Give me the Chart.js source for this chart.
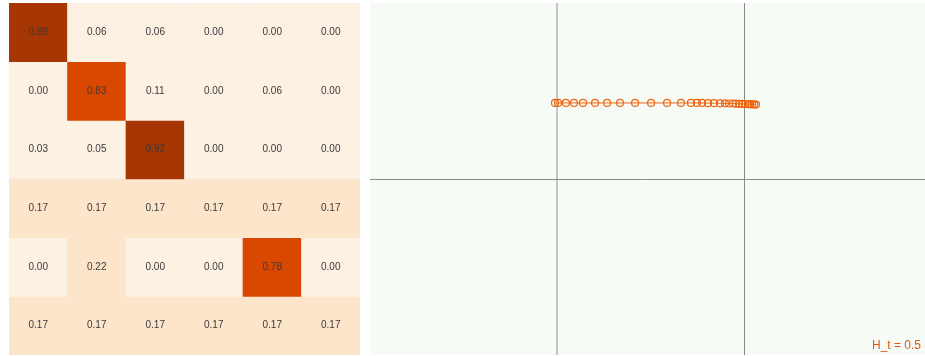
<!DOCTYPE html>
<html>
<head>
<meta charset="utf-8">
<script src="https://cdn.jsdelivr.net/npm/chart.js@4"></script>
<style>
  body { margin: 0; background: #fff; width: 925px; height: 356px; overflow: hidden; position: relative; }
  #heat-wrap { position: absolute; left: 9px; top: 3px; width: 351px; height: 352px; }
  #traj-wrap { position: absolute; left: 370px; top: 3px; width: 555px; height: 352px; }
</style>
</head>
<body>
<div id="heat-wrap"><canvas id="heat"></canvas></div>
<div id="traj-wrap"><canvas id="traj"></canvas></div>
<script>
// transition matrix, one row per state
const columns = ['s0', 's1', 's2', 's3', 's4', 's5'];
const row0 = [0.89, 0.06, 0.06, 0.00, 0.00, 0.00];
const row1 = [0.00, 0.83, 0.11, 0.00, 0.06, 0.00];
const row2 = [0.03, 0.05, 0.92, 0.00, 0.00, 0.00];
const row3 = [0.17, 0.17, 0.17, 0.17, 0.17, 0.17];
const row4 = [0.00, 0.22, 0.00, 0.00, 0.78, 0.00];
const row5 = [0.17, 0.17, 0.17, 0.17, 0.17, 0.17];
const rows = [row0, row1, row2, row3, row4, row5];

// trajectory points (right panel)
const trajX = [-0.008, 0.008, 0.05, 0.093, 0.141, 0.205, 0.269, 0.338, 0.418, 0.503,
               0.588, 0.662, 0.715, 0.747, 0.774, 0.806, 0.838, 0.870, 0.896, 0.918,
               0.939, 0.955, 0.971, 0.987, 1.003, 1.019, 1.029, 1.040, 1.051, 1.061];
const trajY = [0.432, 0.432, 0.432, 0.432, 0.432, 0.432, 0.432, 0.432, 0.432, 0.432,
               0.432, 0.432, 0.432, 0.432, 0.432, 0.431, 0.431, 0.430, 0.430, 0.429,
               0.429, 0.428, 0.427, 0.427, 0.426, 0.425, 0.425, 0.424, 0.424, 0.423];
const htLabel = 'H_t = 0.5';

// Oranges, quantised in 8 steps
const oranges = ['#fdf1e4', '#fde5cc', '#fdd0a2', '#fdae6b', '#fd8d3c', '#f16913', '#d94801', '#a63603', '#7f2704'];
function cellColor(v) {
    return oranges[Math.min(8, Math.floor(v * 8))];
}

// write the value in the middle of each cell
const cellText = {
    id: 'cellText',
    afterDatasetsDraw(chart) {
        const ctx = chart.ctx;
        ctx.save();
        ctx.font = '10px "Liberation Sans", Arial, sans-serif';
        ctx.fillStyle = '#3a3a3a';
        ctx.textAlign = 'center';
        ctx.textBaseline = 'middle';
        chart.data.datasets.forEach(function(ds, i) {
            chart.getDatasetMeta(i).data.forEach(function(bar, j) {
                const p = bar.getCenterPoint();
                ctx.fillText(rows[i][j].toFixed(2), p.x, p.y);
            });
        });
        ctx.restore();
    }
};

new Chart(document.getElementById('heat'), {
    type: 'bar',
    data: {
        labels: columns,
        datasets: rows.map(function(r, i) {
            return {
                data: r.map(function() { return [i, i + 1]; }),
                backgroundColor: r.map(cellColor),
                borderWidth: 0,
                barPercentage: 1,
                categoryPercentage: 1
            };
        })
    },
    options: {
        responsive: true,
        maintainAspectRatio: false,
        animation: false,
        layout: { padding: 0, autoPadding: false },
        plugins: { legend: { display: false }, tooltip: { enabled: false } },
        scales: {
            x: { stacked: true, display: false },
            y: { min: 0, max: 6, reverse: true, display: false }
        }
    },
    plugins: [cellText]
});

// pale green panel + label in the corner
const panel = {
    id: 'panel',
    beforeDraw(chart) {
        const a = chart.chartArea, ctx = chart.ctx;
        ctx.save();
        ctx.fillStyle = '#f7fbf6';
        ctx.fillRect(a.left, a.top, a.right - a.left, a.bottom - a.top);
        ctx.restore();
    },
    afterDraw(chart) {
        const a = chart.chartArea, ctx = chart.ctx;
        ctx.save();
        ctx.font = '12px "Liberation Sans", Arial, sans-serif';
        ctx.fillStyle = '#e6550d';
        ctx.textAlign = 'right';
        ctx.textBaseline = 'alphabetic';
        ctx.fillText(htLabel, a.right - 4, a.bottom - 6);
        ctx.restore();
    }
};

new Chart(document.getElementById('traj'), {
    type: 'scatter',
    data: {
        datasets: [{
            data: trajX.map(function(x, i) { return { x: x, y: trajY[i] }; }),
            showLine: true,
            borderColor: '#f16913',
            borderWidth: 1,
            pointRadius: 3.5,
            pointBorderWidth: 1.2,
            pointBorderColor: '#ee6510',
            pointBackgroundColor: 'rgba(0,0,0,0)'
        }]
    },
    options: {
        responsive: true,
        maintainAspectRatio: false,
        animation: false,
        layout: { padding: 0, autoPadding: false },
        plugins: { legend: { display: false }, tooltip: { enabled: false } },
        scales: {
            x: {
                type: 'linear', min: -0.992, max: 1.960,
                afterBuildTicks: function(s) { s.ticks = [{ value: 0 }, { value: 1 }]; },
                ticks: { display: false },
                border: { display: false },
                grid: {
                    drawTicks: false,
                    color: function(c) { return c.tick && c.tick.value === 0 ? '#c6c6c6' : '#8a8a8a'; },
                    lineWidth: function(c) { return c.tick && c.tick.value === 0 ? 2 : 1; }
                }
            },
            y: {
                type: 'linear', min: -1, max: 1,
                afterBuildTicks: function(s) { s.ticks = [{ value: 0 }]; },
                ticks: { display: false },
                border: { display: false },
                grid: { drawTicks: false, color: '#8a8a8a', lineWidth: 1 }
            }
        }
    },
    plugins: [panel]
});
</script>
</body>
</html>
